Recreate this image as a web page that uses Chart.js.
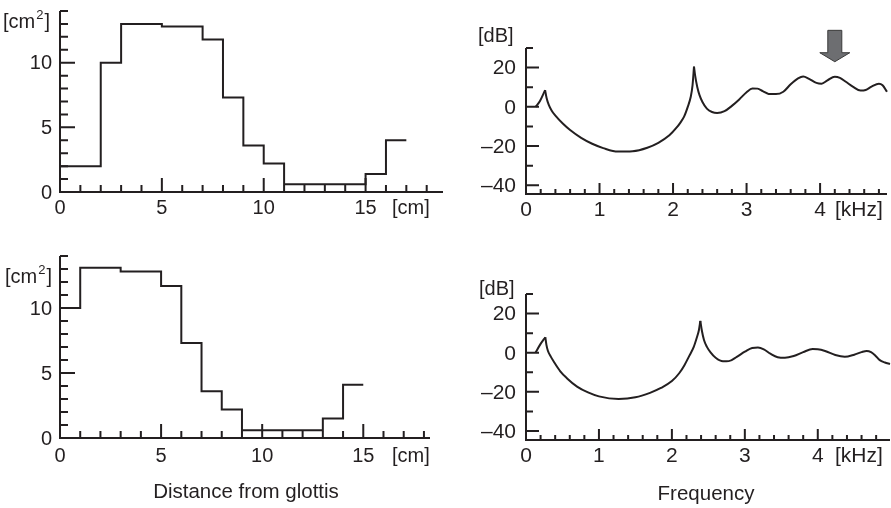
<!DOCTYPE html>
<html>
<head>
<meta charset="utf-8">
<script src="https://cdn.jsdelivr.net/npm/chart.js@4"></script>
<style>
  body { margin: 0; background: #fff; }
  #wrap { position: relative; width: 891px; height: 508px; background: #fff; }
  canvas { position: absolute; }
</style>
</head>
<body>
<div id="wrap">
  <canvas id="c1" width="445" height="250" style="left:0;top:0"></canvas>
  <canvas id="c2" width="446" height="250" style="left:445px;top:0"></canvas>
  <canvas id="c3" width="445" height="258" style="left:0;top:250px"></canvas>
  <canvas id="c4" width="446" height="258" style="left:445px;top:250px"></canvas>
</div>
<script>
// area function, upper panel (start of each section in cm, area in cm2)
const areaPos1 = [0, 2, 3, 5, 7, 8, 9, 10, 11, 15, 16, 17];
const areaVal1 = [2, 10, 13, 12.8, 11.8, 7.3, 3.6, 2.2, 0.6, 1.4, 4, 4];
// area function, lower panel
const areaPos2 = [0, 1, 3, 5, 6, 7, 8, 9, 13, 14, 15];
const areaVal2 = [10, 13.1, 12.8, 11.7, 7.3, 3.6, 2.2, 0.6, 1.5, 4.1, 4.1];

// frequency response, upper panel (kHz, dB)
const freq1 = [0.13, 0.19, 0.26, 0.28, 0.31, 0.35, 0.4, 0.5, 0.6, 0.75, 0.9, 1.05, 1.25, 1.45, 1.65, 1.8, 1.95, 2.05, 2.1, 2.15, 2.2, 2.24, 2.265, 2.285,
  2.3, 2.33, 2.36, 2.4, 2.46, 2.53, 2.6, 2.7, 2.8, 2.9, 3.0, 3.08, 3.15, 3.22, 3.3, 3.4, 3.5, 3.6, 3.7, 3.77, 3.85, 3.95, 4.02, 4.1, 4.2, 4.27, 4.35, 4.45, 4.55, 4.62, 4.7, 4.8, 4.85, 4.91];
const level1 = [0, 3, 8.5, 4.5, 1, -2, -4.5, -8.5, -11.8, -15.8, -18.8, -21, -22.8, -22.6, -20.8, -18.3, -14.5, -10.5, -8, -5, 0, 5, 11, 20.5,
  16, 10, 6, 2.5, -0.9, -2.6, -3.1, -2.2, 0.5, 3.8, 7.5, 9.4, 9.3, 8, 6.6, 6.5, 7.7, 11.5, 14.5, 15.5, 14.3, 12.2, 11.8, 13.5, 15.4, 14.8, 12.8, 10.2, 8.3, 8.6, 10.3, 11.8, 11, 7.7];
const cusps1 = [0.26, 2.285];

// frequency response, lower panel
const freq2 = [0.13, 0.2, 0.265, 0.28, 0.3, 0.34, 0.38, 0.47, 0.56, 0.7, 0.85, 1.0, 1.27, 1.5, 1.7, 1.85, 2.0, 2.1, 2.17, 2.24, 2.3, 2.34, 2.37, 2.39,
  2.41, 2.44, 2.48, 2.53, 2.6, 2.7, 2.78, 2.89, 3.0, 3.1, 3.18, 3.26, 3.35, 3.45, 3.55, 3.67, 3.8, 3.93, 4.0, 4.1, 4.24, 4.37, 4.5, 4.6, 4.67, 4.73, 4.79, 4.85, 4.92, 4.99];
const level2 = [0, 4.5, 7.9, 4, 1, -2, -4.5, -9.5, -13, -17.3, -20.3, -22.3, -23.6, -22.8, -20.5, -18, -14.5, -10.5, -6.5, -1.5, 3, 7.5, 11.5, 16.3,
  11.5, 6.5, 3, 0.2, -2.6, -4.4, -4.3, -2.1, 0.5, 2.4, 2.6, 1.7, -0.5, -2.3, -2.6, -1.7, 0.3, 1.9, 1.8, 0.9, -1.2, -2.1, -1, 0.3, 0.9, 0.3, -1.5, -3.8, -5, -5.8];
const cusps2 = [0.265, 2.39];

// ticks
const cmTicks1 = [0,1,2,3,4,5,6,7,8,9,10,11,12,13,14,15,16,17,18];
const cmTicks2 = [0,1,2,3,4,5,6,7,8,9,10,11,12,13,14,15,16,17,18];
const cmLabels = [0, 5, 10, 15];
const areaTicks = [0,1,2,3,4,5,6,7,8,9,10,11,12,13,14];
const areaLabels = [0, 5, 10];
const khzTicks = [0,0.2,0.4,0.6,0.8,1,1.2,1.4,1.6,1.8,2,2.2,2.4,2.6,2.8,3,3.2,3.4,3.6,3.8,4,4.2,4.4,4.6,4.8];
const khzLabels = [0, 1, 2, 3, 4];
const dbTicks = [-40, -30, -20, -10, 0, 10, 20, 30];
const dbLabels = [-40, -20, 0, 20];

const ink = '#231f20';
const font = '"Liberation Sans", Arial, Helvetica, sans-serif';

function fmt(v) {
  return v < 0 ? '\u2013' + Math.abs(v) : String(v);
}

function splitAt(xs, ys, cusps) {
  const segs = [];
  let cur = [];
  xs.forEach((x, i) => {
    cur.push({x: x, y: ys[i]});
    if (cusps.includes(x)) {
      segs.push(cur);
      cur = [{x: x, y: ys[i]}];
    }
  });
  segs.push(cur);
  return segs;
}

function unitText(ctx, x, y, sup) {
  // draws [cm2] style label, baseline at y
  ctx.font = '20px ' + font;
  ctx.textAlign = 'left';
  ctx.textBaseline = 'alphabetic';
  if (sup) {
    ctx.fillText('[cm', x, y);
    let w = ctx.measureText('[cm').width;
    ctx.font = '13px ' + font;
    ctx.fillText('2', x + w + 1, y - 9);
    let w2 = ctx.measureText('2').width;
    ctx.font = '20px ' + font;
    ctx.fillText(']', x + w + w2 + 2, y);
  } else {
    ctx.fillText('[dB]', x, y);
  }
}

function axesPlugin(cfg) {
  return {
    id: 'axes',
    afterDraw(chart) {
      const ctx = chart.ctx, sx = chart.scales.x, sy = chart.scales.y;
      const x0 = sx.getPixelForValue(sx.min), x1 = sx.getPixelForValue(sx.max);
      const y0 = sy.getPixelForValue(sy.min), y1 = sy.getPixelForValue(sy.max);
      ctx.save();
      ctx.strokeStyle = ink;
      ctx.fillStyle = ink;
      ctx.lineWidth = 2;
      ctx.beginPath();
      ctx.moveTo(x0, y1);
      ctx.lineTo(x0, y0);
      ctx.lineTo(x1, y0);
      ctx.stroke();

      ctx.beginPath();
      cfg.xTicks.forEach(v => {
        const px = sx.getPixelForValue(v);
        const len = cfg.xLabels.includes(v) ? cfg.xMajor : cfg.xMinor;
        ctx.moveTo(px, y0);
        ctx.lineTo(px, y0 - len);
      });
      cfg.yTicks.forEach(v => {
        const py = sy.getPixelForValue(v);
        const len = cfg.yLabels.includes(v) ? cfg.yMajor : cfg.yMinor;
        ctx.moveTo(x0, py);
        ctx.lineTo(x0 + len, py);
      });
      ctx.stroke();

      ctx.font = cfg.size + 'px ' + font;
      ctx.textAlign = 'center';
      ctx.textBaseline = 'top';
      cfg.xLabels.forEach(v => {
        ctx.fillText(fmt(v), sx.getPixelForValue(v), y0 + cfg.xGap);
      });
      ctx.textAlign = 'left';
      ctx.fillText(cfg.xUnit, cfg.xUnitX, y0 + cfg.xGap);

      ctx.textAlign = 'right';
      ctx.textBaseline = 'middle';
      cfg.yLabels.forEach(v => {
        ctx.fillText(fmt(v), x0 - cfg.yGap, sy.getPixelForValue(v) + 1);
      });

      unitText(ctx, cfg.yUnitX, cfg.yUnitY, cfg.sup);

      if (cfg.title) {
        ctx.font = '20.5px ' + font;
        ctx.textAlign = 'center';
        ctx.textBaseline = 'alphabetic';
        ctx.fillText(cfg.title, cfg.titleX, cfg.titleY);
      }

      if (cfg.arrow) {
        const ax = sx.getPixelForValue(cfg.arrow.at);
        const tip = sy.getPixelForValue(cfg.arrow.tip);
        const neck = sy.getPixelForValue(cfg.arrow.neck);
        const top = sy.getPixelForValue(cfg.arrow.top);
        ctx.beginPath();
        ctx.moveTo(ax - 7, top);
        ctx.lineTo(ax + 7, top);
        ctx.lineTo(ax + 7, neck);
        ctx.lineTo(ax + 15, neck);
        ctx.lineTo(ax, tip);
        ctx.lineTo(ax - 15, neck);
        ctx.lineTo(ax - 7, neck);
        ctx.closePath();
        ctx.fillStyle = '#6d6e71';
        ctx.fill();
        ctx.lineWidth = 1;
        ctx.strokeStyle = '#3a3a3a';
        ctx.stroke();
      }
      ctx.restore();
    }
  };
}

function baseOptions(xmin, xmax, ymin, ymax, pad) {
  return {
    responsive: false,
    devicePixelRatio: 1,
    animation: false,
    layout: { padding: pad },
    plugins: { legend: { display: false }, tooltip: { enabled: false } },
    elements: { point: { radius: 0 } },
    scales: {
      x: { type: 'linear', min: xmin, max: xmax, display: false },
      y: { type: 'linear', min: ymin, max: ymax, display: false }
    }
  };
}

function stepData(xs, ys) {
  return [{
    data: xs.map((x, i) => ({x: x, y: ys[i]})),
    stepped: true,
    borderColor: ink,
    borderWidth: 2,
    fill: false,
    clip: false
  }];
}

function curveData(xs, ys, cusps) {
  return splitAt(xs, ys, cusps).map(seg => ({
    data: seg,
    borderColor: ink,
    borderWidth: 2,
    fill: false,
    cubicInterpolationMode: 'monotone',
    clip: false
  }));
}

const chart1 = new Chart(document.getElementById('c1').getContext('2d'), {
  type: 'line',
  data: { datasets: stepData(areaPos1, areaVal1) },
  options: baseOptions(0, 18.8, 0, 14, {left: 60, right: 2, top: 11, bottom: 58}),
  plugins: [axesPlugin({
    xTicks: cmTicks1, xLabels: cmLabels, yTicks: areaTicks, yLabels: areaLabels,
    xMajor: 14, xMinor: 7, yMajor: 15, yMinor: 8, size: 20, xGap: 6, yGap: 8,
    xUnit: '[cm]', xUnitX: 392, yUnitX: 3, yUnitY: 28, sup: true
  })]
});

const chart2 = new Chart(document.getElementById('c2').getContext('2d'), {
  type: 'line',
  data: { datasets: curveData(freq1, level1, cusps1) },
  options: baseOptions(0, 4.91, -44.4, 30, {left: 81, right: 4, top: 48, bottom: 56}),
  plugins: [axesPlugin({
    xTicks: khzTicks, xLabels: khzLabels, yTicks: dbTicks, yLabels: dbLabels,
    xMajor: 11, xMinor: 5, yMajor: 13, yMinor: 7, size: 21, xGap: 6, yGap: 10,
    xUnit: '[kHz]', xUnitX: 390, yUnitX: 33, yUnitY: 42, sup: false,
    arrow: { at: 4.2, tip: 23, neck: 27.6, top: 39 }
  })]
});

const chart3 = new Chart(document.getElementById('c3').getContext('2d'), {
  type: 'line',
  data: { datasets: stepData(areaPos2, areaVal2) },
  options: baseOptions(0, 18.3, 0, 14, {left: 60, right: 15, top: 6, bottom: 70}),
  plugins: [axesPlugin({
    xTicks: cmTicks2, xLabels: cmLabels, yTicks: areaTicks, yLabels: areaLabels,
    xMajor: 14, xMinor: 7, yMajor: 15, yMinor: 8, size: 20, xGap: 8, yGap: 8,
    xUnit: '[cm]', xUnitX: 392, yUnitX: 5, yUnitY: 33, sup: true,
    title: 'Distance from glottis', titleX: 246, titleY: 248
  })]
});

const chart4 = new Chart(document.getElementById('c4').getContext('2d'), {
  type: 'line',
  data: { datasets: curveData(freq2, level2, cusps2) },
  options: baseOptions(0, 4.99, -44.6, 30, {left: 81, right: 1, top: 44, bottom: 68}),
  plugins: [axesPlugin({
    xTicks: khzTicks, xLabels: khzLabels, yTicks: dbTicks, yLabels: dbLabels,
    xMajor: 11, xMinor: 5, yMajor: 13, yMinor: 7, size: 21, xGap: 6, yGap: 10,
    xUnit: '[kHz]', xUnitX: 390, yUnitX: 34, yUnitY: 45, sup: false,
    title: 'Frequency', titleX: 261, titleY: 250
  })]
});
</script>
</body>
</html>
